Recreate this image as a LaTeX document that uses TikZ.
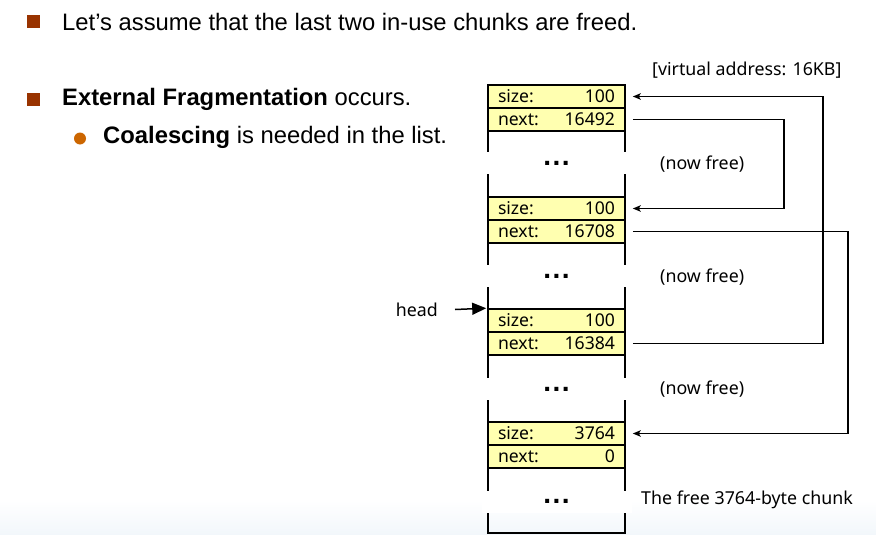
\documentclass[tikz,border=0pt]{standalone}
\usepackage{fontspec}
\setmainfont{Liberation Sans}
\newfontfamily\dg{Noto Sans}
\usetikzlibrary{arrows.meta}
\definecolor{bulletred}{HTML}{993300}
\definecolor{bulletorange}{HTML}{CC6600}
\definecolor{rowyellow}{HTML}{FFFFB0}
\definecolor{haze}{HTML}{F2F7FB}
\begin{document}
\begin{tikzpicture}[x=1pt,y=-1pt,
  bullettext/.style={anchor=west,inner sep=0pt,font=\fontsize{23.8}{28}\selectfont},
  sqbullet/.style={fill=bulletred,minimum size=13pt,inner sep=0pt},
  dotbullet/.style={circle,fill=bulletorange,minimum size=12pt,inner sep=0pt},
  rowbox/.style={draw,line width=1.6pt,fill=rowyellow,minimum width=137pt,minimum height=23pt,inner sep=0pt,font=\dg\fontsize{17.6}{20}\selectfont},
  wall/.style={line width=1.6pt},
  gapbox/.style={fill=white,minimum width=150pt,minimum height=22pt,inner sep=0pt,font=\bfseries\fontsize{28}{28}\selectfont},
  note/.style={inner sep=0pt,font=\dg\fontsize{17.8}{20}\selectfont},
  link/.style={line width=1.2pt,-{Stealth[length=8pt,width=6.5pt,inset=2pt]}},
]
\useasboundingbox (0,0) rectangle (876,535);
% faint slide background band at the bottom
\shade[top color=white,bottom color=haze] (0,500) rectangle (876,535);

% bullet list
\node[sqbullet] (b1) at (33.5,21.5) {};
\node[bullettext] (t1) at (62,21.5) {Let’s assume that the last two in-use chunks are freed.};
\node[sqbullet] (b2) at (33.5,99.5) {};
\node[bullettext] (t2) at (62,99.5) {\textbf{External Fragmentation} occurs.};
\node[dotbullet] (b3) at (80,138.5) {};
\node[bullettext] (t3) at (103,137.5) {\textbf{Coalescing} is needed in the list.};

% memory column outline
\coordinate (tl) at (488,85);
\coordinate (tr) at (625,85);
\coordinate (bl) at (488,533);
\coordinate (br) at (625,533);
\draw[wall] (tl) -- (tr);
\draw[wall] (tl) -- (bl) -- (br) -- (tr);

% chunk headers
\newcommand\rowtext[2]{\makebox[117pt][l]{#1\hfill #2}}
\node[rowbox] (s1) at (556.5,96.5) {\rowtext{size:}{100}};
\node[rowbox] (n1) at (556.5,119.5) {\rowtext{next:}{16492}};
\node[rowbox] (s2) at (556.5,208.5) {\rowtext{size:}{100}};
\node[rowbox] (n2) at (556.5,231.5) {\rowtext{next:}{16708}};
\node[rowbox] (s3) at (556.5,320.5) {\rowtext{size:}{100}};
\node[rowbox] (n3) at (556.5,343.5) {\rowtext{next:}{16384}};
\node[rowbox] (s4) at (556.5,433.5) {\rowtext{size:}{3764}};
\node[rowbox] (n4) at (556.5,456.5) {\rowtext{next:}{0}};

% elided regions
\node[gapbox] (g1) at (556.5,163) {.\hspace{1.5pt}.\hspace{1.5pt}.};
\node[gapbox] (g2) at (556.5,276) {.\hspace{1.5pt}.\hspace{1.5pt}.};
\node[gapbox] (g3) at (556.5,389) {.\hspace{1.5pt}.\hspace{1.5pt}.};
\node[gapbox] (g4) at (556.5,501.5) {.\hspace{1.5pt}.\hspace{1.5pt}.};

% annotations
\node[note,anchor=west] (va) at (652,70) {[virtual address: 16KB]};
\node[note,anchor=west] (f1) at (660,164) {(now free)};
\node[note,anchor=west] (f2) at (660,277) {(now free)};
\node[note,anchor=west] (f3) at (660,389) {(now free)};
\node[note,anchor=west] (fc) at (641,499.5) {The free 3764-byte chunk};
\node[note,anchor=east] (hd) at (438,309.5) {head};

% head pointer
\draw[line width=1.5pt,-{Triangle[length=14pt,width=12pt]}] ([xshift=17pt]hd.east) -- ([xshift=-1pt]s3.north west);

% free-list links
\coordinate (k1) at (784,0);
\coordinate (k2) at (848,0);
\coordinate (k3) at (823,0);
\draw[link] ([xshift=7pt]n1.east) -- (k1 |- n1.east) -- (k1 |- s2.east) -- ([xshift=7pt]s2.east);
\draw[link] ([xshift=7pt]n2.east) -- (k2 |- n2.east) -- (k2 |- s4.east) -- ([xshift=7pt]s4.east);
\draw[link] ([xshift=7pt]n3.east) -- (k3 |- n3.east) -- (k3 |- s1.east) -- ([xshift=7pt]s1.east);
\end{tikzpicture}
\end{document}
